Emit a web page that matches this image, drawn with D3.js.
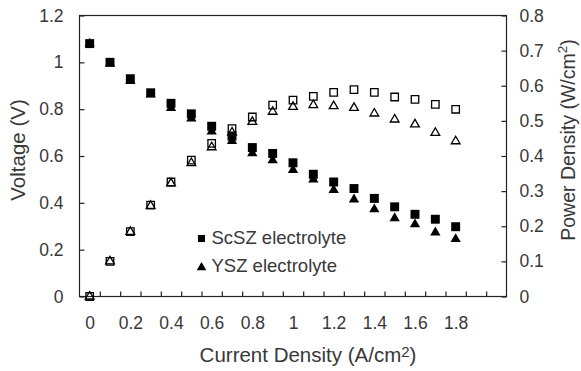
<!DOCTYPE html>
<html>
<head>
<meta charset="utf-8">
<script src="https://cdn.jsdelivr.net/npm/d3@7"></script>
<style>
    body { margin: 0; background: #fff; }
    svg text { font-family: "Liberation Sans", Arial, sans-serif; fill: #383838; }
    .axis path, .axis line { stroke: #222; stroke-width: 1.2; }
    .frame { fill: none; stroke: #222; stroke-width: 1.2; }
</style>
</head>
<body>
<div id="chart"></div>
<script>

// current density (A/cm2)
var current = [0, 0.1, 0.2, 0.3, 0.4, 0.5, 0.6, 0.7, 0.8, 0.9, 1.0, 1.1, 1.2, 1.3, 1.4, 1.5, 1.6, 1.7, 1.8];

// voltage (V)
var scszVoltage = [1.08, 1.0, 0.93, 0.87, 0.825, 0.78, 0.727, 0.685, 0.636, 0.611, 0.571, 0.522, 0.489, 0.461, 0.419, 0.383, 0.351, 0.33, 0.298];
var yszVoltage = [1.08, 0.995, 0.92, 0.862, 0.805, 0.76, 0.705, 0.664, 0.612, 0.582, 0.54, 0.5, 0.455, 0.414, 0.372, 0.334, 0.308, 0.273, 0.245];

// power density (W/cm2)
var scszPower = [0, 0.1, 0.185, 0.26, 0.326, 0.388, 0.436, 0.478, 0.511, 0.545, 0.559, 0.57, 0.581, 0.589, 0.581, 0.568, 0.561, 0.547, 0.533];
var yszPower = [0, 0.1, 0.184, 0.258, 0.322, 0.38, 0.425, 0.467, 0.497, 0.526, 0.54, 0.545, 0.542, 0.537, 0.521, 0.504, 0.49, 0.466, 0.442];

var voltageTicks = [0, 0.2, 0.4, 0.6, 0.8, 1, 1.2];
var powerTicks = [0, 0.1, 0.2, 0.3, 0.4, 0.5, 0.6, 0.7, 0.8];
var currentTicks = [0, 0.2, 0.4, 0.6, 0.8, 1, 1.2, 1.4, 1.6, 1.8];

var legendLabels = ["ScSZ electrolyte", "YSZ electrolyte"];


var width = 581
    , height = 371
    , margin = {top: 15.5, right: 74.5, bottom: 74.5, left: 79.5}
    , w = width - margin.left - margin.right
    , h = height - margin.top - margin.bottom
    ;

var svg = d3.select("#chart")
    .append("svg")
    .attr("width", width)
    .attr("height", height);

var g = svg.append("g")
    .attr("transform", "translate(" + margin.left + "," + margin.top + ")");

var x = d3.scaleLinear()
    .domain([-0.05, 2.05])
    .range([0, w]);

var yV = d3.scaleLinear()
    .domain([0, 1.2])
    .range([h, 0]);

var yP = d3.scaleLinear()
    .domain([0, 0.8])
    .range([h, 0]);

function fmt(d) { return String(+d.toFixed(1)); }

// minor ticks sit on the category boundaries
var boundaries = d3.range(1, 21).map(function(k) { return -0.05 + k * 0.1; });

g.append("g")
    .attr("class", "axis axis--minor")
    .attr("transform", "translate(0," + h + ")")
    .call(d3.axisBottom(x).tickValues(boundaries).tickSizeOuter(0).tickSizeInner(-5).tickFormat(""))
    .select(".domain").remove();

g.append("g")
    .attr("class", "axis axis--x")
    .attr("transform", "translate(0," + h + ")")
    .call(d3.axisBottom(x).tickValues(currentTicks).tickSize(0).tickPadding(20).tickFormat(fmt))
    .call(function(s) { s.select(".domain").remove(); })
    .selectAll("text")
    .style("font-size", "17.5px");

g.append("g")
    .attr("class", "axis axis--y")
    .call(d3.axisLeft(yV).tickValues(voltageTicks).tickSizeOuter(0).tickSizeInner(-5).tickPadding(16).tickFormat(fmt))
    .call(function(s) { s.select(".domain").remove(); })
    .selectAll("text")
    .style("font-size", "17.5px");

g.append("g")
    .attr("class", "axis axis--y2")
    .attr("transform", "translate(" + w + ",0)")
    .call(d3.axisRight(yP).tickValues(powerTicks).tickSizeOuter(0).tickSizeInner(-5).tickPadding(13).tickFormat(fmt))
    .call(function(s) { s.select(".domain").remove(); })
    .selectAll("text")
    .style("font-size", "17.5px");

g.append("rect")
    .attr("class", "frame")
    .attr("width", w)
    .attr("height", h);


var square = d3.symbol().type(d3.symbolSquare)
    , triangle = d3.symbol().type(d3.symbolTriangle);

function series(values, scale, sym, size, filled) {
    g.append("g")
        .selectAll("path")
        .data(current)
        .enter()
        .append("path")
        .attr("transform", function(d, i) { return "translate(" + x(d) + "," + scale(values[i]) + ")"; })
        .attr("d", sym.size(size)())
        .attr("fill", filled ? "#000" : "none")
        .attr("stroke", "#000")
        .attr("stroke-width", filled ? 0 : 1.3);
}

series(scszVoltage, yV, square, 80, true);
series(yszVoltage, yV, triangle, 46, true);
series(scszPower, yP, square, 56, false);
series(yszPower, yP, triangle, 33, false);


// legend
var legend = svg.append("g")
    .attr("transform", "translate(201.5,238.5)");

legend.selectAll("path")
    .data(legendLabels)
    .enter()
    .append("path")
    .attr("transform", function(d, i) { return "translate(0," + (i * 29) + ")"; })
    .attr("d", function(d, i) { return (i ? triangle.size(40) : square.size(50))(); })
    .attr("fill", "#000");

legend.selectAll("text")
    .data(legendLabels)
    .enter()
    .append("text")
    .attr("x", 10)
    .attr("y", function(d, i) { return 5 + i * 28.5; })
    .style("font-size", "18.5px")
    .text(function(d) { return d; });


// axis titles
svg.append("text")
    .attr("transform", "translate(25,150) rotate(-90)")
    .attr("text-anchor", "middle")
    .style("font-size", "20.5px")
    .text("Voltage (V)");

var pt = svg.append("text")
    .attr("transform", "translate(575,140) rotate(-90)")
    .attr("text-anchor", "middle")
    .style("font-size", "19.5px");
pt.append("tspan").text("Power Density (W/cm");
pt.append("tspan").attr("dy", -8).style("font-size", "13.5px").text("2");
pt.append("tspan").attr("dy", 8).text(")");

var xt = svg.append("text")
    .attr("x", 308)
    .attr("y", 362)
    .attr("text-anchor", "middle")
    .style("font-size", "20.5px");
xt.append("tspan").text("Current Density (A/cm");
xt.append("tspan").attr("dy", -5).style("font-size", "15px").text("2");
xt.append("tspan").attr("dy", 5).text(")");

</script>
</body>
</html>
